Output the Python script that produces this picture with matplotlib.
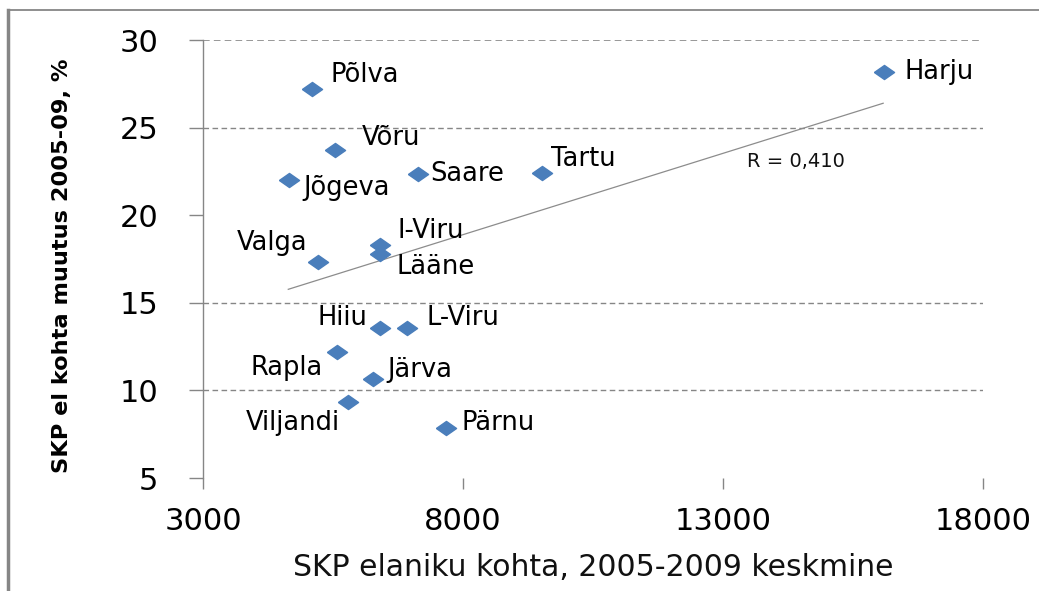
import matplotlib
matplotlib.use("Agg")
import matplotlib.pyplot as plt
from matplotlib.lines import Line2D

plt.rcParams['font.family'] = ['DejaVu Sans']

# maakonnad: SKP elaniku kohta (x) ja SKP el kohta muutus 2005-09, % (y)
regions = ["Harju", "Põlva", "Võru", "Jõgeva", "Saare", "Tartu", "I-Viru", "Lääne",
           "Valga", "Hiiu", "L-Viru", "Rapla", "Järva", "Viljandi", "Pärnu"]
gdp_per_capita = [16096, 5102, 5538, 4647, 7141, 9526, 6404, 6404,
                  5205, 6404, 6917, 5571, 6263, 5795, 7673]
gdp_change = [28.19, 27.19, 23.72, 21.99, 22.33, 22.39, 18.30, 17.77,
              17.35, 13.58, 13.58, 12.21, 10.63, 9.32, 7.87]

# trendijoon (loetud pildilt)
trend_x = [4640, 16080]
trend_y = [15.77, 26.39]

x_ticks = [3000, 8000, 13000, 18000]
y_ticks = [5, 10, 15, 20, 25, 30]
grid_levels = [10, 15, 25, 30]

# sildi nihked pikslites (dx, dy) ja joondus
label_offsets = {
    "Harju": (21, 0, "left"), "Põlva": (18, 14, "left"), "Võru": (27, 12, "left"),
    "Jõgeva": (15, -8, "left"), "Saare": (12, 0, "left"), "Tartu": (9, 14, "left"),
    "I-Viru": (17, 14, "left"), "Lääne": (16, -13, "left"), "Valga": (-10, 19, "right"),
    "Hiiu": (-13, 10, "right"), "L-Viru": (20, 10, "left"), "Rapla": (-14, -16, "right"),
    "Järva": (15, 9, "left"), "Viljandi": (-8, -21, "right"), "Pärnu": (16, 5, "left"),
}

fig = plt.figure(figsize=(10.39, 5.91), dpi=100)
ax = fig.add_axes([203 / 1039, 1 - 478 / 591, 780 / 1039, 438 / 591])

grey = "#868686"

for lvl in grid_levels:
    ax.axhline(lvl, color=grey, lw=1.2 if lvl == 30 else 1.0,
               ls=(0, (4, 2.5)), zorder=1)

ax.plot(trend_x, trend_y, color="#8c8c8c", lw=0.9, zorder=2)

diamond = [(-1, 0), (0, 0.7), (1, 0), (0, -0.7), (-1, 0)]
ax.plot(gdp_per_capita, gdp_change, ls="none", marker=diamond, markersize=14.5,
        color="#4a7ebb", markeredgecolor="#4a7ebb", zorder=3)

for name, gx, gy in zip(regions, gdp_per_capita, gdp_change):
    dx, dy, ha = label_offsets[name]
    ax.annotate(name, (gx, gy), xytext=(dx, dy), textcoords="offset pixels",
                ha=ha, va="center", fontsize=18.5, color="black", zorder=4)

ax.text(0.697, 0.7215, "R = 0,410", transform=ax.transAxes, ha="left",
        va="center", fontsize=14, color="#111111")

ax.set_xlim(3000, 18000)
ax.set_ylim(5, 30)
ax.set_xticks(x_ticks)
ax.set_yticks(y_ticks)

for s in ["top", "right", "bottom"]:
    ax.spines[s].set_visible(False)
ax.spines["left"].set_color(grey)
ax.spines["left"].set_linewidth(1.0)

ax.tick_params(axis="y", direction="out", length=10, width=1.0, color=grey,
               pad=22, labelsize=22, labelcolor="black")
ax.tick_params(axis="x", direction="out", length=8, width=1.0, color=grey,
               pad=13, labelsize=22, labelcolor="black")

ax.set_xlabel("SKP elaniku kohta, 2005-2009 keskmine", fontsize=21.5,
              color="#111111")
ax.xaxis.set_label_coords(0.5, -0.172)
ax.set_ylabel("SKP el kohta muutus 2005-09, %", fontsize=16.2,
              fontweight="bold", color="black")
ax.yaxis.set_label_coords(-0.168, 0.484)

# välimine raam
fig.add_artist(Line2D([8 / 1039, 8 / 1039], [0, 1 - 10 / 591],
                      transform=fig.transFigure, color=grey, lw=2.5))
fig.add_artist(Line2D([8 / 1039, 1], [1 - 10 / 591, 1 - 10 / 591],
                      transform=fig.transFigure, color=grey, lw=1.3))

fig.savefig("out.png", dpi=100)
